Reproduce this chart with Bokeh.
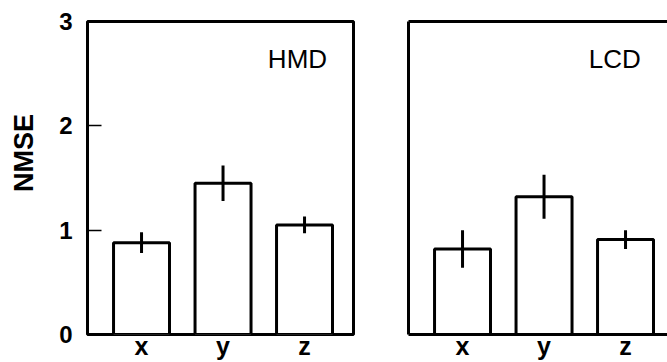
import math
from bokeh.plotting import figure
from bokeh.models import Range1d, FixedTicker, LinearAxis, Label, ColumnDataSource
from bokeh.core.properties import value
from bokeh.layouts import row
from bokeh.embed import file_html
from bokeh.resources import INLINE

categories = ["x", "y", "z"]
positions = [1, 2, 3]
hmd_values = [0.88, 1.45, 1.05]
hmd_errors = [0.10, 0.17, 0.08]
lcd_values = [0.82, 1.32, 0.91]
lcd_errors = [0.18, 0.21, 0.09]
y_ticks = [0, 1, 2, 3]
panel_labels = ["HMD", "LCD"]
y_title = "NMSE"

FONT = "Liberation Sans"
X_START = 0.337


def make_panel(values, errors, label, width, border_left, border_right, x_end, first):
    p = figure(width=width, height=362,
               x_range=Range1d(X_START, x_end), y_range=Range1d(0, 3),
               output_backend="svg", toolbar_location=None,
               min_border_left=border_left, min_border_right=border_right,
               min_border_top=21, min_border_bottom=25)
    p.background_fill_color = "white"
    p.border_fill_color = "white"
    p.xgrid.visible = False
    p.ygrid.visible = False

    lo = [v - e for v, e in zip(values, errors)]
    hi = [v + e for v, e in zip(values, errors)]
    src = ColumnDataSource(dict(x=positions, top=values, lo=lo, hi=hi))
    p.vbar(x="x", top="top", bottom=0, width=0.687, source=src,
           fill_color="white", line_color="black", line_width=3)
    p.segment(x0="x", y0="lo", x1="x", y1="hi", source=src,
              line_color="black", line_width=3)

    # x axis
    xa = p.xaxis[0]
    xa.ticker = FixedTicker(ticks=positions)
    xa.major_label_overrides = {pos: c for pos, c in zip(positions, categories)}
    xa.major_tick_in = 0
    xa.major_tick_out = 0
    xa.minor_tick_line_color = None
    xa.major_label_standoff = -3
    xa.major_label_text_font = FONT
    xa.major_label_text_font_style = "bold"
    xa.major_label_text_font_size = "25px"
    xa.major_label_text_color = "black"

    ya = p.yaxis[0]
    ya.minor_tick_line_color = None
    if first:
        p.outline_line_color = "black"
        p.outline_line_width = 3
        p.outline_line_alpha = 1.0
        xa.axis_line_color = None
        ya.axis_line_color = None
        ya.ticker = FixedTicker(ticks=y_ticks)
        ya.major_tick_in = 14
        ya.major_tick_out = 0
        ya.major_tick_line_width = 1.5
        ya.major_tick_line_color = "black"
        ya.major_label_standoff = 15
        ya.major_label_text_font = FONT
        ya.major_label_text_font_style = "bold"
        ya.major_label_text_font_size = "24px"
        ya.major_label_text_color = "black"
    else:
        p.outline_line_color = None
        xa.axis_line_color = "black"
        xa.axis_line_width = 3
        ya.ticker = FixedTicker(ticks=[])
        ya.axis_line_color = "black"
        ya.axis_line_width = 3
        ya.major_tick_line_color = None
        ya.major_label_text_font_size = "0px"
        top_axis = LinearAxis(ticker=FixedTicker(ticks=[]),
                              axis_line_color="black", axis_line_width=3,
                              major_tick_line_color=None, minor_tick_line_color=None,
                              major_label_text_font_size="0px")
        p.add_layout(top_axis, "above")

    p.add_layout(Label(x=2.55, y=2.64, text=label,
                       text_font=FONT, text_font_size="26px",
                       text_color="black", text_baseline="alphabetic"))
    return p


# narrow strip carrying the y-axis title (placed above the frame centre, as in the original)
p0 = figure(width=40, height=362, x_range=Range1d(0, 40), y_range=Range1d(0, 362),
            output_backend="svg", toolbar_location=None,
            x_axis_location=None, y_axis_location=None,
            min_border_left=0, min_border_right=0, min_border_top=0, min_border_bottom=0)
p0.outline_line_color = None
p0.xgrid.visible = False
p0.ygrid.visible = False
p0.text(x=[23], y=[362 - 152], text=[y_title], angle=math.pi / 2,
        text_align="center", text_baseline="middle",
        text_font=value(FONT), text_font_style="bold",
        text_font_size="27px", text_color="black")

p1 = make_panel(hmd_values, hmd_errors, panel_labels[0], 340, 47, 27,
                X_START + 266 / 81.5, True)
p2 = make_panel(lcd_values, lcd_errors, panel_labels[1], 287, 28, 0,
                X_START + 259 / 81.5, False)

layout = row(p0, p1, p2)
open("out.html", "w").write(file_html(layout, INLINE))
